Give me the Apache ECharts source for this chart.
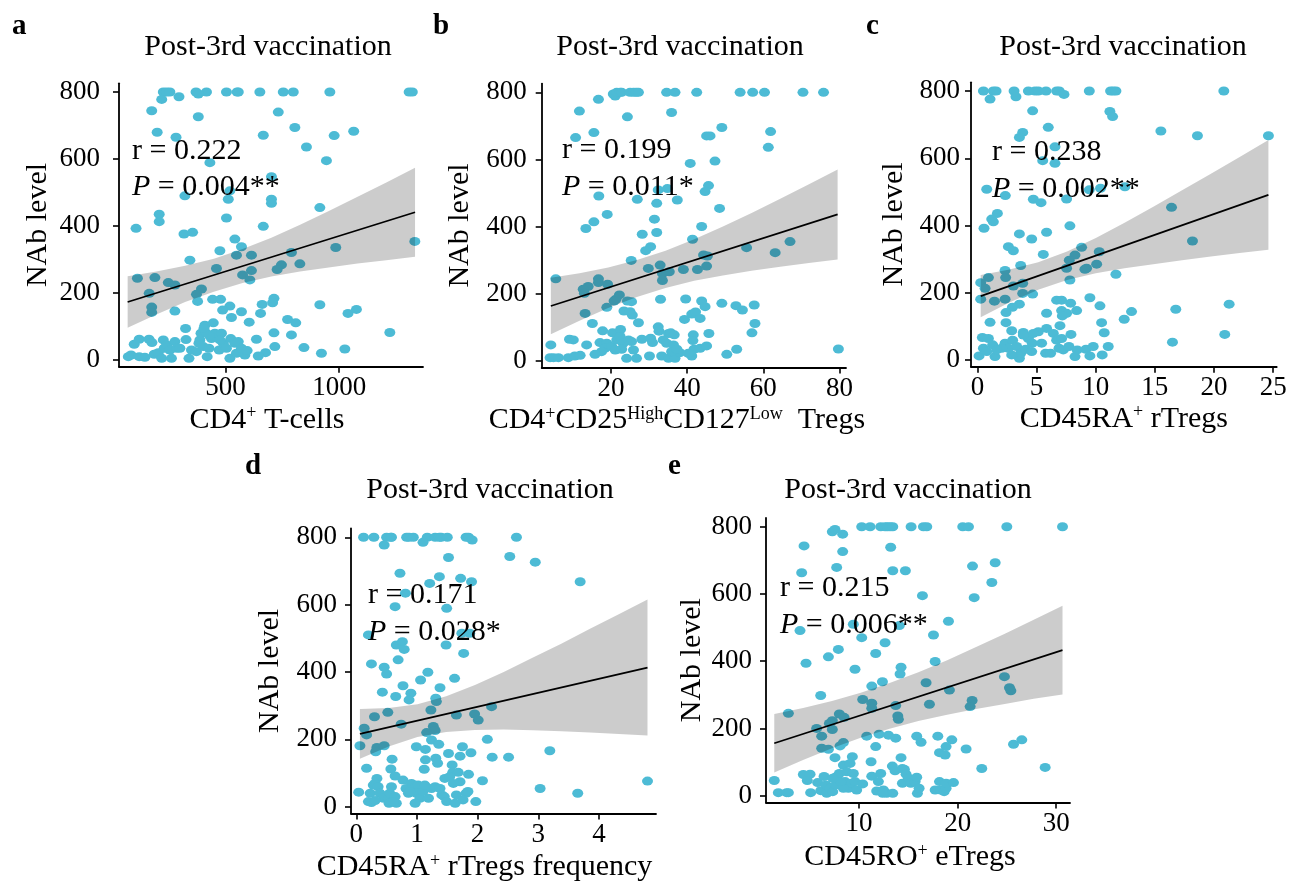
<!DOCTYPE html>
<html>
<head>
<meta charset="utf-8">
<script src="https://cdn.jsdelivr.net/npm/echarts@6/dist/echarts.min.js"></script>
<style>
html,body{margin:0;padding:0;background:#ffffff;}
#chart{width:1290px;height:884px;}
</style>
</head>
<body>
<div id="chart"></div>
<script>
// ---------------- DATA ----------------
const panelTitle = 'Post-3rd vaccination';
const yName = 'NAb level';
const yTicks = [0, 200, 400, 600, 800];

// Panel a: CD4+ T-cells
const aXTicks = [500, 1000];
const aData = [[226,800],[241,800],[255,800],[370,800],[416,800],[504,800],[551,800],[556,800],[651,800],[754,800],[798,800],[959,800],[1308,800],[1322,800],[380,794],[295,786],[219,778],[175,744],[380,726],[199,680],[282,665],[732,740],[805,694],[666,671],[856,636],[978,670],[1064,683],[431,589],[944,595],[321,490],[519,505],[512,480],[702,547],[702,480],[702,468],[915,455],[208,435],[208,413],[106,393],[504,424],[317,376],[355,381],[666,399],[541,361],[570,338],[475,326],[343,298],[548,313],[614,313],[985,336],[1333,354],[790,321],[746,284],[827,287],[460,273],[575,254],[614,267],[607,239],[727,270],[112,244],[189,246],[248,231],[277,224],[394,212],[372,196],[164,199],[377,175],[175,158],[175,142],[277,146],[443,181],[478,181],[519,161],[487,149],[526,127],[570,144],[661,166],[654,139],[713,184],[707,171],[915,165],[1039,139],[1076,151],[773,121],[809,111],[604,113],[713,81],[790,75],[1223,82],[845,37],[922,20],[1025,33],[717,40],[676,22],[644,12],[72,10],[84,15],[98,47],[120,62],[120,10],[145,8],[163,62],[176,52],[186,17],[204,22],[226,60],[230,35],[219,5],[241,45],[255,30],[262,5],[277,55],[285,35],[299,35],[324,94],[326,61],[339,5],[350,30],[372,25],[387,60],[392,80],[409,104],[402,40],[419,10],[427,35],[438,64],[446,111],[453,80],[472,30],[482,80],[490,50],[504,35],[519,5],[523,64],[541,50],[548,20],[556,55],[570,35],[585,15],[595,28],[636,62],[414,81],[383,50],[405,94],[475,60],[428,74]];
const aFitX = [69, 1334];
const aFitY = [173, 441];
const aBandX = [69, 195.5, 322, 448.5, 575, 701.5, 828, 954.5, 1081, 1207.5, 1334];
const aBandLo = [96, 136, 173, 204, 230, 249, 264, 276, 288, 298, 308];
const aBandHi = [250, 264, 281, 302, 331, 365, 404, 445, 487, 530, 574];
const aStats = ['r = 0.222', 'P', ' = 0.004**'];

// Panel b: CD4+CD25High CD127Low Tregs
const bXTicks = [20, 40, 60, 80];
const bData = [[21.1,789],[20.6,795],[21.5,800],[22.4,800],[22.8,800],[25.0,800],[25.9,800],[26.6,800],[27.2,800],[34.6,800],[36.8,800],[42.5,800],[53.9,800],[57.2,800],[60.3,800],[70.4,800],[75.8,800],[16.7,779],[11.7,744],[24.3,727],[35.9,740],[10.7,665],[15.5,680],[49.1,695],[61.9,683],[45.1,670],[46.0,670],[61.3,636],[40.8,588],[47.3,595],[16.8,491],[19.0,436],[15.5,414],[13.4,394],[26.9,481],[32.4,509],[34.8,513],[32.0,469],[37.4,479],[45.6,522],[44.7,504],[48.5,454],[31.4,422],[43.8,400],[28.2,377],[32.0,382],[41.4,362],[30.4,340],[29.1,328],[25.3,299],[29.8,275],[32.9,285],[33.5,260],[33.5,239],[35.3,265],[39.0,272],[42.7,272],[45.1,282],[44.3,315],[45.3,312],[55.6,337],[63.1,322],[67.0,355],[5.5,244],[16.7,244],[16.7,233],[19.1,228],[14.0,221],[12.7,213],[13.0,201],[22.2,196],[21.3,183],[20.8,178],[18.9,159],[24.3,178],[25.4,176],[13.2,141],[23.4,148],[25.0,146],[25.6,136],[15.1,111],[27.2,113],[33.0,183],[39.6,184],[43.8,178],[44.7,161],[49.1,171],[52.8,164],[54.5,151],[57.6,166],[39.3,123],[41.2,139],[42.2,145],[43.4,126],[57.8,111],[57.0,83],[45.7,81],[41.6,77],[17.8,89],[20.4,83],[22.5,93],[32.4,101],[32.6,88],[35.1,81],[35.7,83],[36.6,77],[28.1,64],[30.4,67],[30.9,54],[33.7,62],[34.6,52],[36.4,47],[41.5,60],[41.8,34],[43.4,37],[45.1,44],[50.4,19],[53.0,34],[79.7,35],[4.2,47],[9.1,64],[10.1,62],[13.6,47],[17.1,54],[18.9,52],[18.4,37],[20.2,42],[21.5,62],[22.4,72],[23.2,52],[24.6,62],[25.4,57],[25.9,32],[22.8,34],[17.5,27],[15.8,19],[21.1,32],[24.1,7],[26.7,7],[30.1,14],[33.3,14],[35.1,7],[36.8,7],[38.1,24],[41.2,14],[4.0,9],[4.9,9],[6.2,9],[8.8,9],[10.5,14],[11.9,16],[35.9,27],[37.3,34],[40.3,22]];
const bFitX = [4.2, 79.5];
const bFitY = [163, 436];
const bBandX = [4.2, 11.73, 19.26, 26.79, 34.32, 41.85, 49.38, 56.91, 64.44, 71.97, 79.5];
const bBandLo = [79, 119, 157, 190, 217, 238, 254, 268, 280, 291, 302];
const bBandHi = [247, 261, 278, 300, 328, 362, 400, 440, 483, 526, 570];
const bStats = ['r = 0.199', 'P', ' = 0.011*'];

// Panel c: CD45RA+ rTregs
const cXTicks = [0, 5, 10, 15, 20, 25];
const cData = [[0.51,800],[1.35,800],[1.58,800],[3.10,800],[4.31,800],[4.87,800],[5.15,800],[5.80,800],[6.70,800],[6.92,800],[9.46,800],[11.26,800],[11.48,800],[11.71,800],[20.83,800],[1.07,776],[3.26,783],[7.32,790],[4.67,741],[11.20,739],[11.43,724],[5.99,692],[15.51,681],[18.60,667],[24.60,667],[3.83,677],[3.55,662],[6.56,634],[5.52,593],[6.56,585],[0.79,508],[2.36,489],[4.73,478],[5.38,468],[7.54,479],[9.46,506],[10.41,511],[12.47,515],[16.41,454],[1.69,436],[1.21,419],[1.35,411],[0.56,392],[3.55,375],[4.59,360],[5.85,380],[7.82,399],[2.62,337],[3.04,325],[5.57,314],[8.25,312],[8.81,335],[10.30,322],[7.77,297],[3.66,281],[7.54,273],[9.23,273],[9.09,270],[10.08,285],[11.71,255],[18.18,354],[2.34,266],[2.39,245],[0.93,245],[0.28,230],[0.65,213],[3.04,220],[3.83,228],[3.83,198],[4.67,196],[7.82,238],[1.44,175],[2.34,181],[0.28,181],[6.70,178],[7.12,178],[7.88,169],[9.51,185],[10.36,161],[3.55,166],[2.96,157],[2.42,141],[5.85,139],[7.12,147],[7.54,139],[7.18,131],[8.39,147],[13.03,144],[12.41,121],[16.77,151],[21.28,166],[1.07,112],[2.42,111],[10.50,111],[6.98,102],[10.72,81],[2.90,87],[3.88,82],[20.91,76],[16.49,53],[0.42,67],[0.93,64],[1.29,45],[1.49,10],[0.51,35],[0.14,12],[0.79,25],[2.34,50],[2.62,35],[2.98,59],[3.32,40],[3.55,5],[3.66,20],[4.08,32],[4.31,64],[4.64,50],[4.59,25],[5.15,84],[5.43,50],[5.77,20],[6.19,20],[6.42,79],[6.70,59],[6.90,35],[7.12,64],[7.26,30],[7.74,40],[7.91,76],[8.25,10],[8.44,30],[9.18,32],[9.51,12],[9.79,40],[10.55,15],[11.06,40],[5.85,94],[4.73,79],[3.88,74],[2.90,15],[2.05,35],[1.63,30]];
const cFitX = [0.28, 24.6];
const cFitY = [190, 491];
const cBandX = [0.28, 2.71, 5.14, 7.58, 10.01, 12.44, 14.87, 17.30, 19.74, 22.17, 24.6];
const cBandLo = [127, 171, 209, 238, 258, 273, 285, 297, 308, 318, 328];
const cBandHi = [253, 269, 291, 323, 363, 408, 456, 505, 554, 604, 654];
const cStats = ['r = 0.238', 'P', ' = 0.002**'];

// Panel d: CD45RA+ rTregs frequency
const dXTicks = [0, 1, 2, 3, 4];
const dData = [[0.12,800],[0.29,800],[0.50,800],[0.57,800],[0.58,800],[0.83,800],[0.87,800],[0.94,800],[1.17,800],[1.30,800],[1.37,800],[1.40,800],[1.50,800],[1.81,800],[1.85,800],[2.64,800],[0.46,777],[1.10,785],[1.91,792],[1.52,740],[2.53,743],[2.95,726],[0.72,693],[1.37,683],[1.21,663],[1.72,678],[1.90,668],[3.69,668],[0.81,634],[0.64,594],[1.49,589],[0.20,510],[0.66,480],[0.76,490],[0.79,467],[1.48,480],[1.74,515],[1.87,515],[1.77,455],[0.25,424],[0.46,414],[0.50,394],[0.69,436],[1.18,399],[1.06,376],[1.62,381],[0.77,359],[1.38,353],[0.43,340],[0.90,337],[0.65,327],[0.87,317],[1.31,322],[1.32,312],[0.52,280],[1.23,287],[1.65,272],[1.95,275],[2.01,257],[2.23,297],[0.30,267],[0.74,245],[0.13,233],[0.17,213],[1.27,238],[1.30,226],[1.16,220],[1.24,198],[1.36,185],[2.16,200],[0.06,181],[0.34,176],[0.46,181],[0.32,163],[0.99,178],[1.14,170],[1.75,178],[1.71,150],[1.89,160],[1.52,158],[1.31,144],[1.34,129],[1.14,139],[1.58,124],[2.24,147],[2.51,147],[3.19,166],[0.59,141],[0.17,114],[0.57,112],[1.12,111],[1.59,102],[1.68,102],[1.85,96],[1.46,84],[1.54,89],[2.08,77],[4.80,76],[3.03,54],[3.65,40],[0.64,91],[0.34,84],[0.77,79],[0.04,43],[0.23,40],[0.28,64],[0.31,69],[0.36,59],[0.39,40],[0.45,25],[0.20,15],[0.25,12],[0.31,18],[0.53,25],[0.55,40],[0.58,59],[0.64,30],[0.66,10],[0.54,10],[0.61,15],[0.82,54],[0.86,40],[0.91,69],[0.97,59],[1.02,64],[0.99,40],[1.05,25],[0.97,10],[1.10,45],[1.19,25],[1.24,54],[1.30,59],[1.38,54],[1.41,35],[1.45,30],[1.49,15],[1.63,10],[1.65,35],[1.71,74],[1.76,20],[1.81,40],[1.84,45],[1.97,15],[1.60,69],[1.13,64],[0.88,45]];
const dFitX = [0.06, 4.8];
const dFitY = [216, 413];
const dBandX = [0.06, 0.534, 1.008, 1.482, 1.956, 2.43, 2.904, 3.378, 3.852, 4.326, 4.8];
const dBandLo = [142, 179, 207, 222, 228, 229, 227, 224, 220, 216, 211];
const dBandHi = [290, 293, 304, 328, 361, 400, 442, 484, 528, 571, 615];
const dStats = ['r = 0.171', 'P', ' = 0.028*'];

// Panel e: CD45RO+ eTregs
const eXTicks = [10, 20, 30];
const eData = [[10.27,800],[11.12,800],[12.20,800],[12.64,800],[12.88,800],[13.15,800],[13.42,800],[15.28,800],[16.53,800],[16.87,800],[20.52,800],[21.10,800],[24.99,800],[30.64,800],[7.29,785],[7.56,792],[8.34,778],[4.42,743],[13.21,739],[8.34,726],[7.73,679],[4.18,663],[13.42,669],[14.70,669],[21.51,683],[23.81,693],[23.47,634],[16.43,595],[21.68,589],[4.01,491],[9.42,510],[10.27,470],[14.09,506],[12.64,455],[19.07,519],[17.55,478],[7.90,435],[6.89,413],[11.69,423],[4.62,394],[9.59,376],[17.72,399],[14.26,382],[14.16,362],[12.37,339],[11.29,326],[6.11,298],[16.80,336],[19.17,314],[24.75,354],[25.26,321],[25.40,312],[10.37,286],[11.29,275],[11.29,260],[13.72,268],[13.93,237],[13.99,227],[17.14,272],[21.47,283],[21.27,265],[2.83,245],[8.00,243],[8.48,233],[7.29,223],[6.99,215],[5.70,200],[6.21,177],[7.29,197],[8.41,158],[8.07,148],[6.21,141],[6.89,138],[10.78,177],[12.03,183],[12.98,180],[13.72,171],[15.85,177],[16.29,159],[17.99,177],[19.41,166],[18.83,146],[18.16,128],[18.73,121],[20.86,139],[25.67,153],[26.51,166],[11.69,146],[7.56,113],[9.32,116],[11.22,101],[14.26,113],[13.38,88],[14.60,78],[22.45,81],[28.88,84],[13.65,74],[1.40,45],[1.81,9],[2.66,9],[2.83,9],[4.35,63],[5.03,64],[4.75,45],[5.09,9],[5.80,39],[6.11,15],[6.45,57],[6.72,7],[6.65,32],[7.06,22],[7.33,12],[7.63,32],[7.73,57],[8.00,66],[8.41,91],[8.58,42],[8.75,71],[8.92,22],[9.09,96],[9.42,66],[9.26,37],[9.59,42],[9.76,17],[10.37,35],[11.29,58],[11.79,14],[11.96,42],[12.20,66],[12.47,17],[12.81,7],[13.42,7],[12.40,7],[14.40,81],[14.40,37],[14.77,64],[15.01,52],[15.25,37],[15.69,42],[15.85,55],[15.92,7],[16.09,22],[17.72,17],[18.16,42],[18.29,17],[18.63,12],[18.83,22],[18.83,37],[19.58,39],[8.41,22],[8.14,42],[7.33,52]];
const eFitX = [1.4, 30.64];
const eFitY = [156, 433];
const eBandX = [1.4, 4.32, 7.25, 10.17, 13.10, 16.02, 18.94, 21.87, 24.79, 27.72, 30.64];
const eBandLo = [69, 106, 141, 172, 199, 222, 241, 258, 273, 288, 301];
const eBandHi = [243, 261, 282, 306, 335, 367, 403, 442, 482, 523, 565];
const eStats = ['r = 0.215', 'P', ' = 0.006**'];

// ---------------- LAYOUT / STYLE ----------------
const FONT = '"Liberation Serif", "Times New Roman", serif';
const PT = '#4DBBD5';

const panels = [
  {letter:'a', data:aData, fitX:aFitX, fitY:aFitY, bandX:aBandX, bandLo:aBandLo, bandHi:aBandHi, stats:aStats, xTicks:aXTicks,
   xName:'CD4{s|+} T-cells', xNameShift:8,
   grid:{left:119, top:83.3, width:304, height:283.4}, xMin:31, xMax:1369,
   yMargin:19, xNameGap:38, yNameGap:66,
   letterPos:[12,27], titlePos:[268,47], statPos:[132,151,187]},
  {letter:'b', data:bData, fitX:bFitX, fitY:bFitY, bandX:bBandX, bandLo:bBandLo, bandHi:bBandHi, stats:bStats, xTicks:bXTicks,
   xName:'CD4{s|+}CD25{s|High}CD127{s|Low}  Tregs', xNameShift:34,
   grid:{left:541.7, top:83.6, width:304.3, height:283.8}, xMin:1.8, xMax:81.7,
   yMargin:15, xNameGap:38, yNameGap:67,
   letterPos:[433,27], titlePos:[680,47], statPos:[562,150,187]},
  {letter:'c', data:cData, fitX:cFitX, fitY:cFitY, bandX:cBandX, bandLo:cBandLo, bandHi:cBandHi, stats:cStats, xTicks:cXTicks,
   xName:'CD45RA{s|+} rTregs', xNameShift:0,
   grid:{left:971, top:82.3, width:305.7, height:284.4}, xMin:-0.54, xMax:25.3,
   yMargin:11, xNameGap:37, yNameGap:62,
   letterPos:[866,27], titlePos:[1123,47], statPos:[992,152,189]},
  {letter:'d', data:dData, fitX:dFitX, fitY:dFitY, bandX:dBandX, bandLo:dBandLo, bandHi:dBandHi, stats:dStats, xTicks:dXTicks,
   xName:'CD45RA{s|+} rTregs frequency', xNameShift:38,
   grid:{left:351, top:528.5, width:305, height:284.9}, xMin:-0.087, xMax:4.94,
   yMargin:14, xNameGap:39, yNameGap:66,
   letterPos:[245,467], titlePos:[490,490], statPos:[368,595,632]},
  {letter:'e', data:eData, fitX:eFitX, fitY:eFitY, bandX:eBandX, bandLo:eBandLo, bandHi:eBandHi, stats:eStats, xTicks:eXTicks,
   xName:'CD45RO{s|+} eTregs', xNameShift:16,
   grid:{left:766, top:518, width:304, height:284.4}, xMin:0.56, xMax:31.4,
   yMargin:14, xNameGap:40, yNameGap:59,
   letterPos:[668,467], titlePos:[908,490], statPos:[780,588,625]}
];

const axisLineStyle = {color:'#000', width:1.8};
const grids = [], xAxes = [], yAxes = [], series = [], graphics = [];

panels.forEach((p, i) => {
  grids.push(Object.assign({containLabel:false}, p.grid));
  xAxes.push({
    type:'value', gridIndex:i, min:p.xMin, max:p.xMax,
    axisLine:{show:true, onZero:false, lineStyle:axisLineStyle},
    axisTick:{show:true, length:6, lineStyle:{color:'#000', width:1.6}, customValues:p.xTicks},
    axisLabel:{show:true, customValues:p.xTicks, margin:8, fontSize:27, fontFamily:FONT, color:'#000',
      formatter:(v) => String(v)},
    splitLine:{show:false},
    name:p.xName, nameLocation:'middle', nameGap:p.xNameGap,
    nameTextStyle:{fontSize:30, fontFamily:FONT, color:'#000', padding:[0, p.xNameShift, 0, 0],
      rich:{s:{fontSize:18, fontFamily:FONT, color:'#000', verticalAlign:'top'}}}
  });
  yAxes.push({
    type:'value', gridIndex:i, min:-20, max:826,
    axisLine:{show:true, onZero:false, lineStyle:axisLineStyle},
    axisTick:{show:true, length:6, lineStyle:{color:'#000', width:1.6}, customValues:yTicks},
    axisLabel:{show:true, customValues:yTicks, margin:p.yMargin, fontSize:27, fontFamily:FONT, color:'#000',
      formatter:(v) => String(v)},
    splitLine:{show:false},
    name:yName, nameLocation:'middle', nameGap:p.yNameGap,
    nameTextStyle:{fontSize:30, fontFamily:FONT, color:'#000'}
  });
  // scatter points
  series.push({
    type:'scatter', xAxisIndex:i, yAxisIndex:i, data:p.data,
    symbol:'circle', symbolSize:[11,9],
    itemStyle:{color:PT, opacity:1}, silent:true, z:2
  });
  // confidence band as a polygon through the axes' coordinate system
  const bandRows = p.bandX.map((x, k) => [x, p.bandLo[k], p.bandHi[k]]);
  series.push({
    type:'custom', xAxisIndex:i, yAxisIndex:i, data:bandRows,
    encode:{x:0, y:[1,2]}, silent:true, z:3,
    renderItem:(params, api) => {
      if (params.dataIndex !== 0) return null;
      const upper = bandRows.map(r => api.coord([r[0], r[2]]));
      const lower = bandRows.slice().reverse().map(r => api.coord([r[0], r[1]]));
      return {type:'polygon', shape:{points:upper.concat(lower)},
              style:{fill:'rgba(0,0,0,0.2)', stroke:null}};
    }
  });
  // regression line
  series.push({
    type:'line', xAxisIndex:i, yAxisIndex:i,
    data:p.fitX.map((x, k) => [x, p.fitY[k]]),
    showSymbol:false, symbol:'none', lineStyle:{color:'#000', width:1.7}, silent:true, z:4
  });
  // texts
  graphics.push({type:'text', x:p.letterPos[0], y:p.letterPos[1],
    style:{text:p.letter, fontSize:29, fontWeight:'bold', fontFamily:FONT, fill:'#000',
      align:'left', verticalAlign:'middle', textAlign:'left', textVerticalAlign:'middle'}});
  graphics.push({type:'text', x:p.titlePos[0], y:p.titlePos[1],
    style:{text:panelTitle, fontSize:30, fontFamily:FONT, fill:'#000',
      align:'center', verticalAlign:'middle', textAlign:'center', textVerticalAlign:'middle'}});
  graphics.push({type:'text', x:p.statPos[0], y:p.statPos[1], z:10,
    style:{text:p.stats[0], fontSize:30, fontFamily:FONT, fill:'#000',
      align:'left', verticalAlign:'middle', textAlign:'left', textVerticalAlign:'middle'}});
  graphics.push({type:'text', x:p.statPos[0], y:p.statPos[2], z:10,
    style:{text:'{i|' + p.stats[1] + '}{n|' + p.stats[2] + '}', fontSize:30, fontFamily:FONT, fill:'#000',
      align:'left', verticalAlign:'middle', textAlign:'left', textVerticalAlign:'middle',
      rich:{i:{fontSize:30, fontFamily:FONT, fontStyle:'italic', fill:'#000'},
            n:{fontSize:30, fontFamily:FONT, fill:'#000'}}}});
});

const chart = echarts.init(document.getElementById('chart'), null, {renderer:'canvas'});
chart.setOption({
  backgroundColor:'#ffffff',
  animation:false,
  grid:grids, xAxis:xAxes, yAxis:yAxes, series:series,
  graphic:{elements:graphics}
});
</script>
</body>
</html>
